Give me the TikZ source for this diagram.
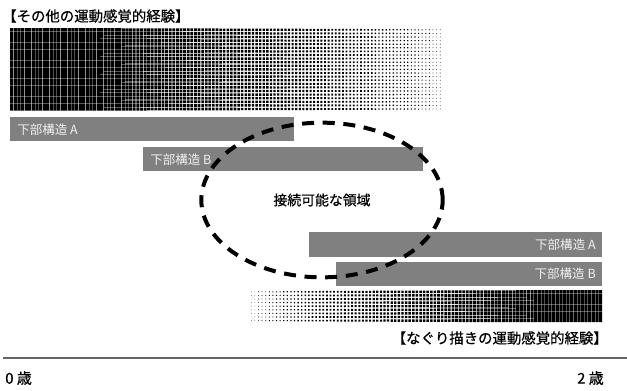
\documentclass[tikz,border=0pt]{standalone}
\usepackage{fontspec}
\newfontfamily\jp{Noto Sans CJK JP}
\newfontfamily\jpb{Noto Sans CJK JP}[FakeBold=0.6]
\usetikzlibrary{shapes.geometric}
\begin{document}
\begin{tikzpicture}[x=0.75pt,y=-0.75pt,
  barc/.style={fill=black!50},
  barlabel/.style={text=white!94!black,font=\jp\fontsize{9.4}{11}\selectfont,inner sep=0pt},
  title/.style={font=\jpb\fontsize{10.8}{12}\selectfont,inner sep=0pt},
  agelabel/.style={font=\jpb\fontsize{11.2}{13}\selectfont,inner sep=0pt},
  region/.style={ellipse,draw=black,line width=3pt,dash pattern=on 9pt off 6.5pt,
    minimum width=181pt,minimum height=116pt,inner sep=0pt,
    font=\jpb\fontsize{10.4}{12}\selectfont}]
\useasboundingbox (0,0) rectangle (627,390);
% top halftone block (dark left)
\foreach \i in {0,...,119}{
  \pgfmathsetmacro{\xx}{10+(\i+0.5)*3.6}
  \pgfmathsetmacro{\dd}{max(0.004,1-(\xx-8)/445)}
  \pgfmathsetmacro{\hs}{min(0.9,sqrt(\dd))*1.8}
  \fill \foreach \j in {0,...,22}{ ({\xx-\hs},{28+(\j+0.5)*3.6-\hs}) rectangle ({\xx+\hs},{28+(\j+0.5)*3.6+\hs}) };
}
% bottom halftone block (dark right)
\foreach \i in {0,...,97}{
  \pgfmathsetmacro{\xx}{249.5+(\i+0.5)*3.6}
  \pgfmathsetmacro{\dd}{max(0.004,(\xx-247)/357)}
  \pgfmathsetmacro{\hs}{min(0.9,sqrt(\dd))*1.8}
  \fill \foreach \j in {0,...,8}{ ({\xx-\hs},{290+(\j+0.5)*3.6-\hs}) rectangle ({\xx+\hs},{290+(\j+0.5)*3.6+\hs}) };
}
% titles
\node[title,anchor=west] (t1) at (2,16) {【その他の運動感覚的経験】};
\node[title,anchor=east] (t2) at (608,338) {【なぐり描きの運動感覚的経験】};
% bars
\fill[barc] (10,117) rectangle (294,141);
\node[barlabel,anchor=west] (a1) at (17,129.5) {下部構造 A};
\fill[barc] (143,147) rectangle (423,171);
\node[barlabel,anchor=west] (b1) at (150,159.5) {下部構造 B};
\fill[barc] (309,232) rectangle (602,257);
\node[barlabel,anchor=east] (a2) at (596,244.5) {下部構造 A};
\fill[barc] (336,262) rectangle (602,286);
\node[barlabel,anchor=east] (b2) at (596,274) {下部構造 B};
% region
\node[region] (reg) at (322,200) {接続可能な領域};
% axis
\draw[black!60,line width=1.5pt] (3,358) -- (627,358);
\node[agelabel,anchor=west] (age0) at (5,378) {0 歳};
\node[agelabel,anchor=east] (age2) at (604,378) {2 歳};
\end{tikzpicture}
\end{document}
